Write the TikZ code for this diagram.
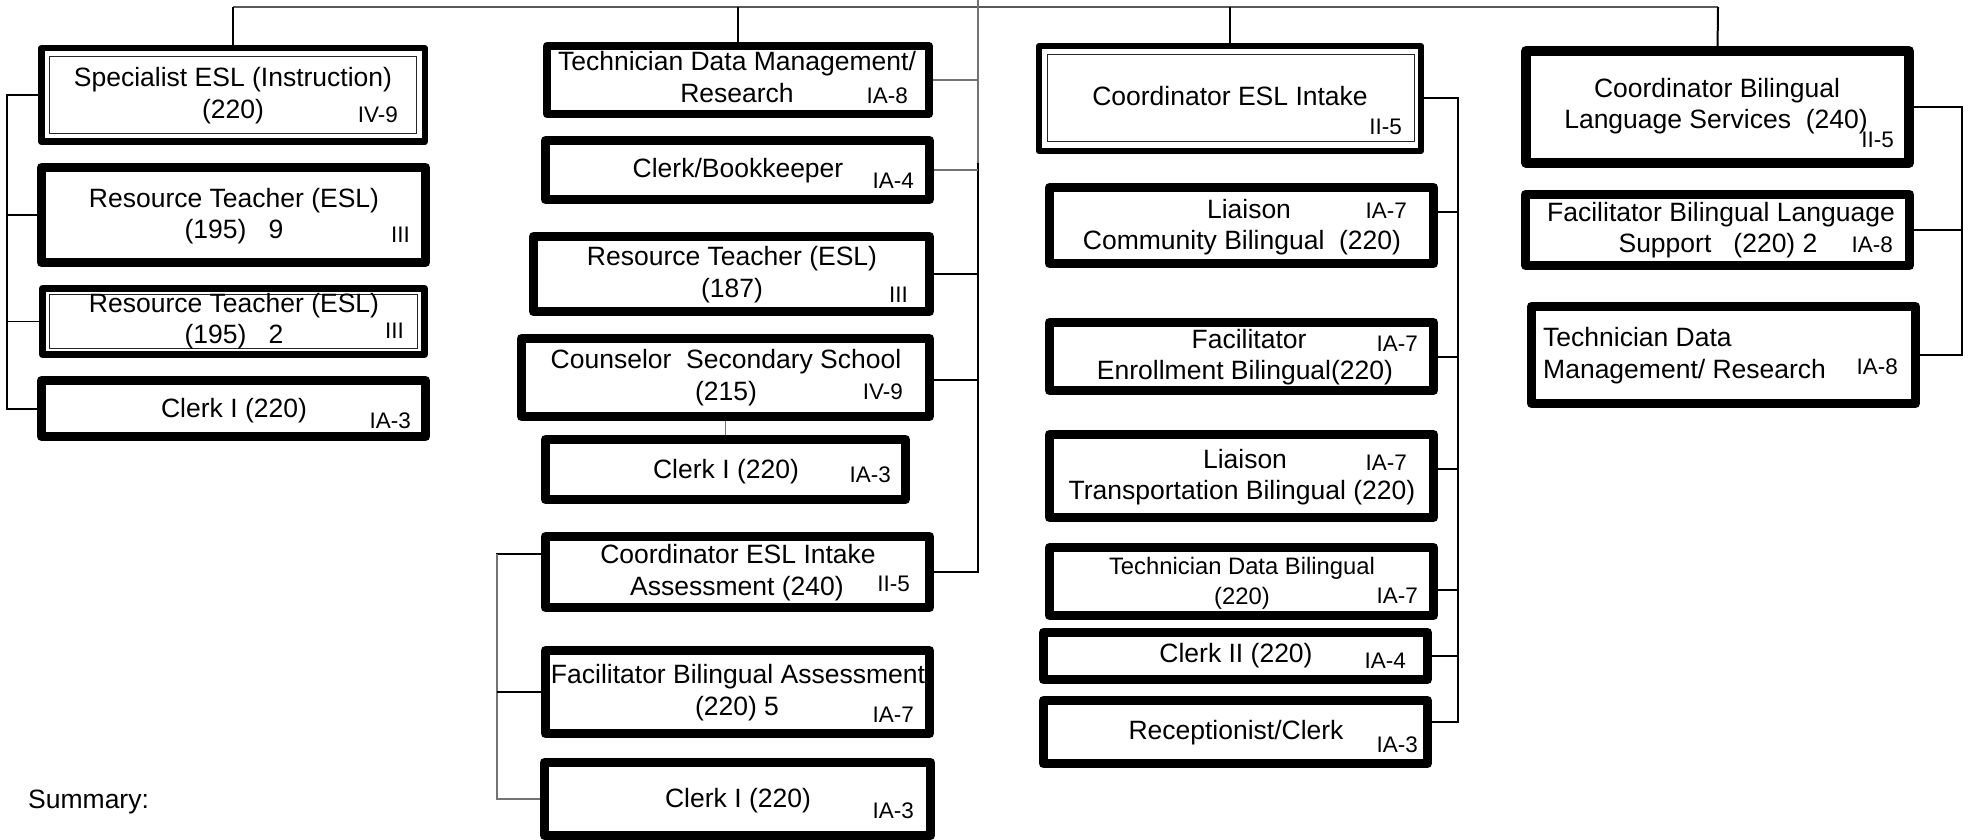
\documentclass[tikz,border=0pt]{standalone}
\usepackage{fontspec}
\setmainfont{Liberation Sans}
\usepackage{tikz}
\usetikzlibrary{backgrounds}

\begin{document}
\begin{tikzpicture}[x=1pt, y=-1pt,
  post/.style={rectangle, draw=black, line width=9pt, line join=round,
    fill=white, inner sep=0pt, outer sep=0pt},
  dblpost/.style={post, line width=6.5pt},
  inframe/.style={draw=black!85, line width=1pt},
  lbl/.style={font=\fontsize{26.5}{30}\selectfont, inner sep=0pt, anchor=base},
  smlbl/.style={lbl, font=\fontsize{23.8}{27}\selectfont},
  grade/.style={font=\fontsize{22.5}{26}\selectfont, inner sep=0pt, anchor=base east},
  link/.style={draw=black, line width=2pt},
  thinlink/.style={draw=black!55, line width=1.3pt},
  topline/.style={draw=black!65, line width=2pt}
]
\useasboundingbox (0,0) rectangle (1970,840);

% left column
\node[dblpost, minimum width=383.5pt, minimum height=93.5pt] (a1) at (233,95) {};
\draw[inframe] ([shift={(8.5,8.5)}]a1.north west) rectangle ([shift={(-8.5,-8.5)}]a1.south east);
\node[post, minimum width=384pt, minimum height=95pt] (a2) at (233.5,215) {};
\node[dblpost, line width=7pt, minimum width=382pt, minimum height=66pt] (a3) at (233.5,321.5) {};
\draw[inframe] ([shift={(7,5.5)}]a3.north west) rectangle ([shift={(-7,-6)}]a3.south east);
\node[post, minimum width=384pt, minimum height=56pt] (a4) at (233.5,408.5) {};

\node[lbl] (a1l) at (233,87) {Specialist ESL (Instruction)};
\node[lbl] (a1m) at (233,119) {(220)};
\node[grade] (a1g) at (398,123) {IV-9};
\node[lbl] (a2l) at (234,207) {Resource Teacher (ESL)};
\node[lbl] (a2m) at (234,238) {(195)~~~9};
\node[grade] (a2g) at (410,242) {III};
\node[lbl] (a3l) at (234,312) {Resource Teacher (ESL)};
\node[lbl] (a3m) at (234,343) {(195)~~~2};
\node[grade] (a3g) at (404,338) {III};
\node[lbl] (a4l) at (234,417) {Clerk I (220)};
\node[grade] (a4g) at (411,428) {IA-3};

% second column
\node[post, line width=8pt, minimum width=382pt, minimum height=68pt] (b1) at (738,80) {};
\node[post, minimum width=384pt, minimum height=59pt] (b2) at (737.5,170) {};
\node[post, minimum width=396pt, minimum height=75pt] (b3) at (731.5,274) {};
\node[post, minimum width=408pt, minimum height=78pt] (b4) at (725.5,377.5) {};
\node[post, minimum width=360pt, minimum height=60pt] (b5) at (725.5,469.5) {};
\node[post, minimum width=384pt, minimum height=71pt] (b6) at (737.5,572) {};
\node[post, minimum width=384pt, minimum height=83pt] (b7) at (737.5,692) {};
\node[post, minimum width=386pt, minimum height=73pt] (b8) at (737.5,799) {};

\node[lbl] (b1l) at (737,71) {Technician Data Management/};
\node[lbl] (b1m) at (737,103) {Research};
\node[grade] (b1g) at (908,104) {IA-8};
\node[lbl] (b2l) at (738,177) {Clerk/Bookkeeper};
\node[grade] (b2g) at (914,188) {IA-4};
\node[lbl] (b3l) at (732,265) {Resource Teacher (ESL)};
\node[lbl] (b3m) at (732,297) {(187)};
\node[grade] (b3g) at (908,302) {III};
\node[lbl] (b4l) at (726,368) {Counselor~~Secondary School};
\node[lbl] (b4m) at (726,400) {(215)};
\node[grade] (b4g) at (903,399) {IV-9};
\node[lbl] (b5l) at (726,478) {Clerk I (220)};
\node[grade] (b5g) at (891,482) {IA-3};
\node[lbl] (b6l) at (738,563) {Coordinator ESL Intake};
\node[lbl] (b6m) at (737,595) {Assessment (240)};
\node[grade] (b6g) at (910,591) {II-5};
\node[lbl] (b7l) at (738,683) {Facilitator Bilingual Assessment};
\node[lbl] (b7m) at (737,715) {(220) 5};
\node[grade] (b7g) at (914,722) {IA-7};
\node[lbl] (b8l) at (738,807) {Clerk I (220)};
\node[grade] (b8g) at (914,818) {IA-3};

% third column
\node[dblpost, line width=6pt, minimum width=382pt, minimum height=105pt] (c1) at (1230,98.5) {};
\draw[inframe] ([shift={(8,9)}]c1.north west) rectangle ([shift={(-6.5,-9.5)}]c1.south east);
\node[post, minimum width=384pt, minimum height=76pt] (c2) at (1241.5,225.5) {};
\node[post, minimum width=384pt, minimum height=68pt] (c3) at (1241.5,356.5) {};
\node[post, minimum width=384pt, minimum height=83pt] (c4) at (1241.5,476) {};
\node[post, minimum width=384pt, minimum height=68pt] (c5) at (1241.5,581.5) {};
\node[post, minimum width=384pt, minimum height=47pt] (c6) at (1235.5,656) {};
\node[post, minimum width=384pt, minimum height=63pt] (c7) at (1235.5,732) {};

\node[lbl] (c1l) at (1230,106) {Coordinator ESL Intake};
\node[grade] (c1g) at (1402,135) {II-5};
\node[lbl] (c2l) at (1249,218) {Liaison};
\node[grade] (c2g) at (1407,218) {IA-7};
\node[lbl] (c2m) at (1242,249) {Community Bilingual~~(220)};
\node[lbl] (c3l) at (1249,348) {Facilitator};
\node[grade] (c3g) at (1418,351) {IA-7};
\node[lbl] (c3m) at (1245,379) {Enrollment Bilingual(220)};
\node[lbl] (c4l) at (1245,468) {Liaison};
\node[grade] (c4g) at (1407,470) {IA-7};
\node[lbl] (c4m) at (1242,499) {Transportation Bilingual (220)};
\node[smlbl] (c5l) at (1242,574) {Technician Data Bilingual};
\node[smlbl] (c5m) at (1242,604) {(220)};
\node[grade] (c5g) at (1418,603) {IA-7};
\node[lbl] (c6l) at (1236,662) {Clerk II (220)};
\node[grade] (c6g) at (1406,668) {IA-4};
\node[lbl] (c7l) at (1236,739) {Receptionist/Clerk};
\node[grade] (c7g) at (1418,752) {IA-3};

% right column
\node[post, line width=10pt, minimum width=383pt, minimum height=112pt] (d1) at (1717.5,107) {};
\node[post, minimum width=384pt, minimum height=71pt] (d2) at (1717.5,230) {};
\node[post, minimum width=384pt, minimum height=97pt] (d3) at (1723.5,355) {};

\node[lbl] (d1l) at (1717,98) {Coordinator Bilingual};
\node[lbl] (d1m) at (1716,129) {Language Services~~(240)};
\node[grade] (d1g) at (1894,147) {II-5};
\node[lbl] (d2l) at (1721,221) {Facilitator Bilingual Language};
\node[lbl] (d2m) at (1718,252) {Support~~~(220) 2};
\node[grade] (d2g) at (1893,252) {IA-8};
\node[lbl, anchor=base west] (d3l) at (1543,346) {Technician Data};
\node[lbl, anchor=base west] (d3m) at (1543,378) {Management/ Research};
\node[grade] (d3g) at (1898,374) {IA-8};

\node[lbl, anchor=base west] (summary) at (28,808) {Summary:};

% connectors
\begin{scope}[on background layer]
\coordinate (ta) at (233,7);
\coordinate (td) at (1718,7);
\coordinate (bustop) at (978,0);
\coordinate (busmid) at (978,163);
\coordinate (ba) at (7,0);
\coordinate (bl) at (497,0);
\coordinate (bc) at (1458,0);
\coordinate (bd) at (1962,0);
\draw[topline] (ta) -- (td);
\draw[link] (a1.north) -- (ta);
\draw[link] (b1.north) -- (b1.north |- ta);
\draw[link] (c1.north) -- (c1.north |- ta);
\draw[link] (d1.north) -- (td);
% bus down the second column
\draw[thinlink] (bustop) -- (busmid);
\draw[link] (busmid) -- (b6.east -| bustop) -- (b6.east);
\draw[thinlink] (b1.east) -- (b1.east -| bustop);
\draw[thinlink] (b2.east) -- (b2.east -| bustop);
\draw[link] (b3.east) -- (b3.east -| bustop);
\draw[link] ([yshift=-2.5pt]b4.east) -- ([yshift=-2.5pt]b4.east -| bustop);
\draw[thinlink] (b4.south) -- (b5.north);
\draw[link] ([yshift=18pt]b6.west) -- ([yshift=18pt]b6.west -| bl) -- (b6.west -| bl);
\draw[thinlink] ([yshift=18pt]b6.west -| bl) |- (b8.west);
\draw[link] (b7.west -| bl) -- (b7.west);
% left bus
\draw[link] (a1.west) -- (a1.west -| ba) -- (a4.west -| ba) -- (a4.west);
\draw[thinlink, draw=black] (a2.west) -- (a2.west -| ba);
\draw[thinlink, draw=black] (a3.west) -- (a3.west -| ba);
% third column bus
\draw[link] (c1.east) -- (c1.east -| bc) -- ([yshift=10pt]c7.east -| bc) -- ([yshift=10pt]c7.east);
\draw[link] ([yshift=13.5pt]c2.east) -- ([yshift=13.5pt]c2.east -| bc);
\draw[link] (c3.east) -- (c3.east -| bc);
\draw[link] ([yshift=7pt]c4.east) -- ([yshift=7pt]c4.east -| bc);
\draw[link] ([yshift=-8.5pt]c5.east) -- ([yshift=-8.5pt]c5.east -| bc);
\draw[link] (c6.east) -- (c6.east -| bc);
% right bus
\draw[link, line width=1.5pt] (d1.east) -- (d1.east -| bd) -- (d3.east -| bd) -- (d3.east);
\draw[link, line width=1.5pt] (d2.east) -- (d2.east -| bd);
\end{scope}
\end{tikzpicture}
\end{document}
